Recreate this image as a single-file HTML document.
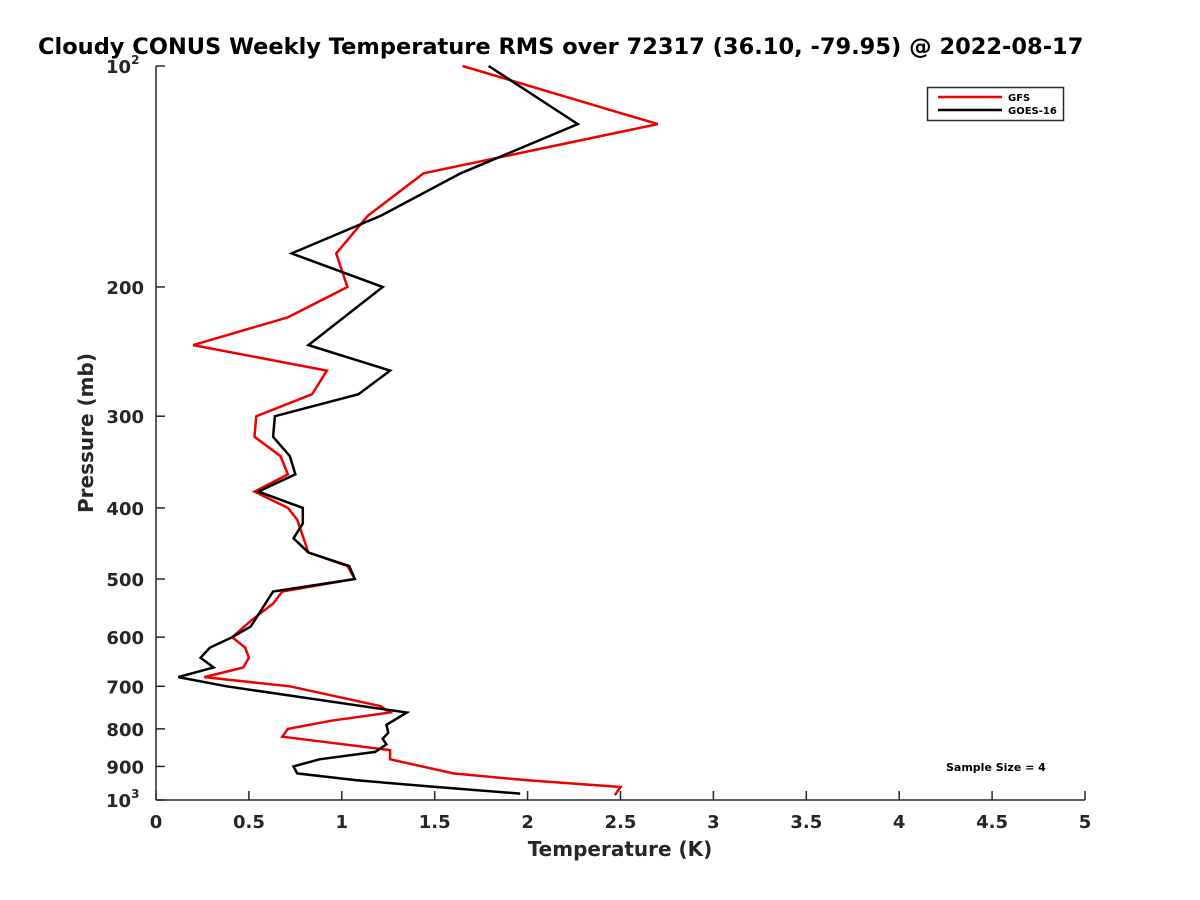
<!DOCTYPE html>
<html><head><meta charset="utf-8"><style>
html,body{margin:0;padding:0;background:#fff;}
svg{display:block;font-family:"DejaVu Sans","Liberation Sans",sans-serif;}
</style></head><body>
<svg id="chart" width="1200" height="900" viewBox="0 0 1200 900">
<text x="38" y="54" font-size="22.5" font-weight="bold" fill="#000">Cloudy CONUS Weekly Temperature RMS over 72317 (36.10, -79.95) @ 2022-08-17</text>
<g id="axes"></g>
<g id="series"></g>
<text x="620" y="856" font-size="20" font-weight="bold" fill="#262626" text-anchor="middle">Temperature (K)</text>
<text transform="translate(93,433) rotate(-90)" font-size="20" font-weight="bold" fill="#262626" text-anchor="middle">Pressure (mb)</text>
<g>
<rect x="927.5" y="87.5" width="136" height="33" fill="#fff" stroke="#262626" stroke-width="1.5"/>
<line x1="938" y1="97" x2="1002" y2="97" stroke="#e00" stroke-width="2.5"/>
<text x="1008" y="101" font-size="10" font-weight="bold" fill="#000">GFS</text>
<line x1="938" y1="110" x2="1002" y2="110" stroke="#000" stroke-width="2.5"/>
<text x="1008" y="114" font-size="10" font-weight="bold" fill="#000">GOES-16</text>
</g>
<text x="946" y="771" font-size="11" font-weight="bold" fill="#000">Sample Size = 4</text>
</svg>
<script>
const xTicks = [0, 0.5, 1, 1.5, 2, 2.5, 3, 3.5, 4, 4.5, 5];
const xTickLabels = ["0","0.5","1","1.5","2","2.5","3","3.5","4","4.5","5"];
const yTicks = [100, 200, 300, 400, 500, 600, 700, 800, 900, 1000];
const yTickLabels = ["10^2","200","300","400","500","600","700","800","900","10^3"];
const gfsTemp = [1.65,2.70,1.44,1.14,0.97,1.03,0.71,0.20,0.92,0.84,0.54,0.53,0.67,0.71,0.53,0.71,0.76,0.82,1.03,1.07,0.68,0.63,0.51,0.41,0.48,0.50,0.47,0.26,0.72,1.21,1.26,0.94,0.71,0.68,1.26,1.26,1.60,2.00,2.50,2.47];
const gfsPres = [100,120,140,160,180,200,220,240,260,280,300,320,340,360,380,400,415,460,480,500,520,540,570,600,620,640,660,680,700,745,760,780,800,820,855,880,920,940,960,985];
const goesTemp = [1.79,2.27,1.64,1.21,0.73,1.22,0.82,1.26,1.09,0.64,0.63,0.72,0.75,0.55,0.79,0.79,0.74,0.82,1.04,1.07,0.63,0.51,0.41,0.29,0.24,0.31,0.12,0.38,1.19,1.35,1.24,1.25,1.22,1.24,1.18,0.88,0.74,0.76,1.08,1.51,1.96];
const goesPres = [100,120,140,160,180,200,240,260,280,300,320,340,360,380,400,420,440,460,480,500,520,580,600,620,640,660,680,700,750,760,790,810,825,840,860,880,900,920,940,960,980];

const X0=156, X1=1085, Y0=66, Y1=800;
function xScale(t){return X0+(t-0)/(5-0)*(X1-X0);}
function yScale(p){return Y0+(Math.log10(p)-2)/(3-2)*(Y1-Y0);}
const NS="http://www.w3.org/2000/svg";
const axes=document.getElementById('axes');
const series=document.getElementById('series');
function mk(tag,attrs){const e=document.createElementNS(NS,tag);for(const k in attrs)e.setAttribute(k,attrs[k]);return e;}

const yAxis=mk('line',{x1:X0,y1:Y0,x2:X0,y2:Y1,stroke:'#262626','stroke-width':1.5});


axes.appendChild(yAxis);
const xAxis=mk('line',{x1:X0,y1:Y1,x2:X1,y2:Y1,stroke:'#262626','stroke-width':1.5});


axes.appendChild(xAxis);

xTicks.forEach((t,i)=>{
  const x=xScale(t);
  const tk=mk('line',{x1:x,y1:Y1,x2:x,y2:Y1-9,stroke:'#262626','stroke-width':1.5});
  
  
  axes.appendChild(tk);
  const lb=mk('text',{x:x,y:Y1+28,'font-size':18,'font-weight':'bold',fill:'#262626','text-anchor':'middle'});
  lb.textContent=xTickLabels[i];
  
  
  axes.appendChild(lb);
});
yTicks.forEach((p,i)=>{
  const y=yScale(p);
  const tk=mk('line',{x1:X0,y1:y,x2:X0+9,y2:y,stroke:'#262626','stroke-width':1.5});
  
  
  axes.appendChild(tk);
  const lb=mk('text',{x:X0-12,y:y+7,'font-size':18,'font-weight':'bold',fill:'#262626','text-anchor':'end'});
  const s=yTickLabels[i];
  if(s.indexOf('^')>=0){
    const parts=s.split('^');
    lb.textContent=parts[0];
    const sup=mk('tspan',{dy:-9,'font-size':12});
    sup.textContent=parts[1];
    lb.appendChild(sup);
    lb.setAttribute('text-anchor','start');
    lb.setAttribute('x',X0-50);
  } else lb.textContent=s;
  
  
  axes.appendChild(lb);
});

function drawLine(ts,ps,color,name){
  const pts=ts.map((t,i)=>xScale(t).toFixed(1)+','+yScale(ps[i]).toFixed(1)).join(' ');
  const pl=mk('polyline',{points:pts,fill:'none',stroke:color,'stroke-width':2.5,'stroke-linejoin':'miter'});
  
  
  series.appendChild(pl);
}
drawLine(gfsTemp,gfsPres,'#e00','gfs-line');
drawLine(goesTemp,goesPres,'#000','goes16-line');
</script>
</body></html>
